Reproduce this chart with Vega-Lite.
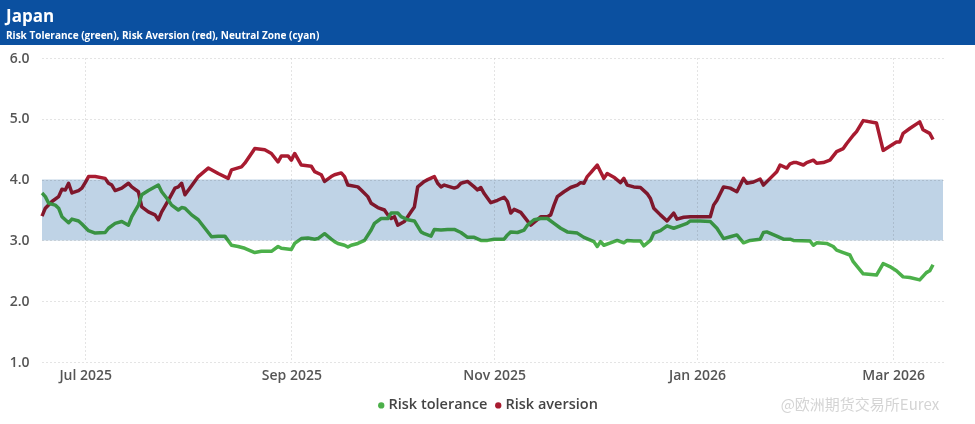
{
  "$schema": "https://vega.github.io/schema/vega-lite/v6.json",
  "padding": 0,
  "background": "white",
  "spacing": 6,
  "config": {
    "font": "Open Sans",
    "view": {"stroke": null}
  },
  "datasets": {
    "band": [{"start": "2025-06-18", "end": "2026-03-16", "lo": 3, "hi": 4}],
    "series": [
      {"date": "2025-06-18", "series": "Risk aversion", "value": 3.40},
      {"date": "2025-06-19", "series": "Risk aversion", "value": 3.53},
      {"date": "2025-06-21", "series": "Risk aversion", "value": 3.64},
      {"date": "2025-06-23", "series": "Risk aversion", "value": 3.72},
      {"date": "2025-06-24", "series": "Risk aversion", "value": 3.84},
      {"date": "2025-06-25", "series": "Risk aversion", "value": 3.83},
      {"date": "2025-06-26", "series": "Risk aversion", "value": 3.94},
      {"date": "2025-06-27", "series": "Risk aversion", "value": 3.78},
      {"date": "2025-06-29", "series": "Risk aversion", "value": 3.82},
      {"date": "2025-06-30", "series": "Risk aversion", "value": 3.86},
      {"date": "2025-07-01", "series": "Risk aversion", "value": 3.95},
      {"date": "2025-07-02", "series": "Risk aversion", "value": 4.05},
      {"date": "2025-07-04", "series": "Risk aversion", "value": 4.05},
      {"date": "2025-07-07", "series": "Risk aversion", "value": 4.02},
      {"date": "2025-07-08", "series": "Risk aversion", "value": 3.94},
      {"date": "2025-07-09", "series": "Risk aversion", "value": 3.91},
      {"date": "2025-07-10", "series": "Risk aversion", "value": 3.82},
      {"date": "2025-07-12", "series": "Risk aversion", "value": 3.86},
      {"date": "2025-07-14", "series": "Risk aversion", "value": 3.94},
      {"date": "2025-07-15", "series": "Risk aversion", "value": 3.88},
      {"date": "2025-07-17", "series": "Risk aversion", "value": 3.80},
      {"date": "2025-07-18", "series": "Risk aversion", "value": 3.55},
      {"date": "2025-07-20", "series": "Risk aversion", "value": 3.47},
      {"date": "2025-07-22", "series": "Risk aversion", "value": 3.42},
      {"date": "2025-07-23", "series": "Risk aversion", "value": 3.34},
      {"date": "2025-07-24", "series": "Risk aversion", "value": 3.47},
      {"date": "2025-07-26", "series": "Risk aversion", "value": 3.66},
      {"date": "2025-07-28", "series": "Risk aversion", "value": 3.86},
      {"date": "2025-07-29", "series": "Risk aversion", "value": 3.88},
      {"date": "2025-07-30", "series": "Risk aversion", "value": 3.94},
      {"date": "2025-07-31", "series": "Risk aversion", "value": 3.75},
      {"date": "2025-08-02", "series": "Risk aversion", "value": 3.90},
      {"date": "2025-08-04", "series": "Risk aversion", "value": 4.05},
      {"date": "2025-08-07", "series": "Risk aversion", "value": 4.19},
      {"date": "2025-08-10", "series": "Risk aversion", "value": 4.10},
      {"date": "2025-08-13", "series": "Risk aversion", "value": 4.02},
      {"date": "2025-08-14", "series": "Risk aversion", "value": 4.16},
      {"date": "2025-08-17", "series": "Risk aversion", "value": 4.21},
      {"date": "2025-08-18", "series": "Risk aversion", "value": 4.27},
      {"date": "2025-08-20", "series": "Risk aversion", "value": 4.43},
      {"date": "2025-08-21", "series": "Risk aversion", "value": 4.51},
      {"date": "2025-08-24", "series": "Risk aversion", "value": 4.49},
      {"date": "2025-08-26", "series": "Risk aversion", "value": 4.43},
      {"date": "2025-08-28", "series": "Risk aversion", "value": 4.29},
      {"date": "2025-08-29", "series": "Risk aversion", "value": 4.39},
      {"date": "2025-08-31", "series": "Risk aversion", "value": 4.39},
      {"date": "2025-09-01", "series": "Risk aversion", "value": 4.32},
      {"date": "2025-09-02", "series": "Risk aversion", "value": 4.43},
      {"date": "2025-09-04", "series": "Risk aversion", "value": 4.24},
      {"date": "2025-09-07", "series": "Risk aversion", "value": 4.22},
      {"date": "2025-09-08", "series": "Risk aversion", "value": 4.13},
      {"date": "2025-09-10", "series": "Risk aversion", "value": 4.08},
      {"date": "2025-09-11", "series": "Risk aversion", "value": 3.97},
      {"date": "2025-09-13", "series": "Risk aversion", "value": 4.05},
      {"date": "2025-09-14", "series": "Risk aversion", "value": 4.08},
      {"date": "2025-09-16", "series": "Risk aversion", "value": 4.11},
      {"date": "2025-09-17", "series": "Risk aversion", "value": 4.05},
      {"date": "2025-09-18", "series": "Risk aversion", "value": 3.91},
      {"date": "2025-09-21", "series": "Risk aversion", "value": 3.88},
      {"date": "2025-09-22", "series": "Risk aversion", "value": 3.83},
      {"date": "2025-09-24", "series": "Risk aversion", "value": 3.72},
      {"date": "2025-09-25", "series": "Risk aversion", "value": 3.61},
      {"date": "2025-09-27", "series": "Risk aversion", "value": 3.54},
      {"date": "2025-09-29", "series": "Risk aversion", "value": 3.50},
      {"date": "2025-09-30", "series": "Risk aversion", "value": 3.42},
      {"date": "2025-10-01", "series": "Risk aversion", "value": 3.36},
      {"date": "2025-10-02", "series": "Risk aversion", "value": 3.39},
      {"date": "2025-10-03", "series": "Risk aversion", "value": 3.25},
      {"date": "2025-10-05", "series": "Risk aversion", "value": 3.31},
      {"date": "2025-10-06", "series": "Risk aversion", "value": 3.39},
      {"date": "2025-10-07", "series": "Risk aversion", "value": 3.47},
      {"date": "2025-10-08", "series": "Risk aversion", "value": 3.55},
      {"date": "2025-10-09", "series": "Risk aversion", "value": 3.88},
      {"date": "2025-10-11", "series": "Risk aversion", "value": 3.97},
      {"date": "2025-10-12", "series": "Risk aversion", "value": 4.00},
      {"date": "2025-10-14", "series": "Risk aversion", "value": 4.05},
      {"date": "2025-10-15", "series": "Risk aversion", "value": 3.94},
      {"date": "2025-10-16", "series": "Risk aversion", "value": 3.88},
      {"date": "2025-10-17", "series": "Risk aversion", "value": 3.91},
      {"date": "2025-10-20", "series": "Risk aversion", "value": 3.86},
      {"date": "2025-10-21", "series": "Risk aversion", "value": 3.88},
      {"date": "2025-10-22", "series": "Risk aversion", "value": 3.94},
      {"date": "2025-10-24", "series": "Risk aversion", "value": 3.97},
      {"date": "2025-10-26", "series": "Risk aversion", "value": 3.88},
      {"date": "2025-10-27", "series": "Risk aversion", "value": 3.83},
      {"date": "2025-10-28", "series": "Risk aversion", "value": 3.87},
      {"date": "2025-10-29", "series": "Risk aversion", "value": 3.77},
      {"date": "2025-10-31", "series": "Risk aversion", "value": 3.62},
      {"date": "2025-11-02", "series": "Risk aversion", "value": 3.66},
      {"date": "2025-11-04", "series": "Risk aversion", "value": 3.71},
      {"date": "2025-11-05", "series": "Risk aversion", "value": 3.64},
      {"date": "2025-11-06", "series": "Risk aversion", "value": 3.45},
      {"date": "2025-11-07", "series": "Risk aversion", "value": 3.51},
      {"date": "2025-11-09", "series": "Risk aversion", "value": 3.46},
      {"date": "2025-11-10", "series": "Risk aversion", "value": 3.39},
      {"date": "2025-11-11", "series": "Risk aversion", "value": 3.32},
      {"date": "2025-11-12", "series": "Risk aversion", "value": 3.25},
      {"date": "2025-11-14", "series": "Risk aversion", "value": 3.34},
      {"date": "2025-11-15", "series": "Risk aversion", "value": 3.39},
      {"date": "2025-11-17", "series": "Risk aversion", "value": 3.39},
      {"date": "2025-11-18", "series": "Risk aversion", "value": 3.42},
      {"date": "2025-11-19", "series": "Risk aversion", "value": 3.58},
      {"date": "2025-11-20", "series": "Risk aversion", "value": 3.72},
      {"date": "2025-11-22", "series": "Risk aversion", "value": 3.80},
      {"date": "2025-11-24", "series": "Risk aversion", "value": 3.87},
      {"date": "2025-11-26", "series": "Risk aversion", "value": 3.91},
      {"date": "2025-11-27", "series": "Risk aversion", "value": 3.95},
      {"date": "2025-11-28", "series": "Risk aversion", "value": 3.94},
      {"date": "2025-11-29", "series": "Risk aversion", "value": 4.05},
      {"date": "2025-11-30", "series": "Risk aversion", "value": 4.11},
      {"date": "2025-12-02", "series": "Risk aversion", "value": 4.24},
      {"date": "2025-12-03", "series": "Risk aversion", "value": 4.13},
      {"date": "2025-12-04", "series": "Risk aversion", "value": 4.02},
      {"date": "2025-12-05", "series": "Risk aversion", "value": 4.10},
      {"date": "2025-12-07", "series": "Risk aversion", "value": 4.04},
      {"date": "2025-12-09", "series": "Risk aversion", "value": 3.95},
      {"date": "2025-12-10", "series": "Risk aversion", "value": 4.02},
      {"date": "2025-12-11", "series": "Risk aversion", "value": 3.91},
      {"date": "2025-12-13", "series": "Risk aversion", "value": 3.88},
      {"date": "2025-12-15", "series": "Risk aversion", "value": 3.87},
      {"date": "2025-12-17", "series": "Risk aversion", "value": 3.77},
      {"date": "2025-12-18", "series": "Risk aversion", "value": 3.69},
      {"date": "2025-12-19", "series": "Risk aversion", "value": 3.53},
      {"date": "2025-12-21", "series": "Risk aversion", "value": 3.42},
      {"date": "2025-12-23", "series": "Risk aversion", "value": 3.32},
      {"date": "2025-12-25", "series": "Risk aversion", "value": 3.45},
      {"date": "2025-12-26", "series": "Risk aversion", "value": 3.35},
      {"date": "2025-12-28", "series": "Risk aversion", "value": 3.38},
      {"date": "2025-12-30", "series": "Risk aversion", "value": 3.39},
      {"date": "2026-01-05", "series": "Risk aversion", "value": 3.39},
      {"date": "2026-01-06", "series": "Risk aversion", "value": 3.58},
      {"date": "2026-01-07", "series": "Risk aversion", "value": 3.66},
      {"date": "2026-01-09", "series": "Risk aversion", "value": 3.88},
      {"date": "2026-01-11", "series": "Risk aversion", "value": 3.86},
      {"date": "2026-01-13", "series": "Risk aversion", "value": 3.80},
      {"date": "2026-01-15", "series": "Risk aversion", "value": 4.02},
      {"date": "2026-01-16", "series": "Risk aversion", "value": 3.94},
      {"date": "2026-01-18", "series": "Risk aversion", "value": 3.96},
      {"date": "2026-01-20", "series": "Risk aversion", "value": 4.01},
      {"date": "2026-01-21", "series": "Risk aversion", "value": 3.91},
      {"date": "2026-01-23", "series": "Risk aversion", "value": 4.02},
      {"date": "2026-01-25", "series": "Risk aversion", "value": 4.13},
      {"date": "2026-01-26", "series": "Risk aversion", "value": 4.24},
      {"date": "2026-01-28", "series": "Risk aversion", "value": 4.19},
      {"date": "2026-01-29", "series": "Risk aversion", "value": 4.26},
      {"date": "2026-01-30", "series": "Risk aversion", "value": 4.28},
      {"date": "2026-01-31", "series": "Risk aversion", "value": 4.28},
      {"date": "2026-02-02", "series": "Risk aversion", "value": 4.24},
      {"date": "2026-02-03", "series": "Risk aversion", "value": 4.28},
      {"date": "2026-02-05", "series": "Risk aversion", "value": 4.32},
      {"date": "2026-02-06", "series": "Risk aversion", "value": 4.27},
      {"date": "2026-02-08", "series": "Risk aversion", "value": 4.28},
      {"date": "2026-02-10", "series": "Risk aversion", "value": 4.32},
      {"date": "2026-02-12", "series": "Risk aversion", "value": 4.46},
      {"date": "2026-02-14", "series": "Risk aversion", "value": 4.51},
      {"date": "2026-02-15", "series": "Risk aversion", "value": 4.59},
      {"date": "2026-02-17", "series": "Risk aversion", "value": 4.73},
      {"date": "2026-02-18", "series": "Risk aversion", "value": 4.79},
      {"date": "2026-02-20", "series": "Risk aversion", "value": 4.97},
      {"date": "2026-02-24", "series": "Risk aversion", "value": 4.93},
      {"date": "2026-02-26", "series": "Risk aversion", "value": 4.48},
      {"date": "2026-02-28", "series": "Risk aversion", "value": 4.55},
      {"date": "2026-03-02", "series": "Risk aversion", "value": 4.62},
      {"date": "2026-03-03", "series": "Risk aversion", "value": 4.62},
      {"date": "2026-03-04", "series": "Risk aversion", "value": 4.76},
      {"date": "2026-03-06", "series": "Risk aversion", "value": 4.84},
      {"date": "2026-03-09", "series": "Risk aversion", "value": 4.95},
      {"date": "2026-03-10", "series": "Risk aversion", "value": 4.82},
      {"date": "2026-03-12", "series": "Risk aversion", "value": 4.76},
      {"date": "2026-03-13", "series": "Risk aversion", "value": 4.66},
      {"date": "2025-06-18", "series": "Risk tolerance", "value": 3.78},
      {"date": "2025-06-19", "series": "Risk tolerance", "value": 3.72},
      {"date": "2025-06-20", "series": "Risk tolerance", "value": 3.61},
      {"date": "2025-06-22", "series": "Risk tolerance", "value": 3.58},
      {"date": "2025-06-23", "series": "Risk tolerance", "value": 3.53},
      {"date": "2025-06-24", "series": "Risk tolerance", "value": 3.39},
      {"date": "2025-06-26", "series": "Risk tolerance", "value": 3.29},
      {"date": "2025-06-27", "series": "Risk tolerance", "value": 3.35},
      {"date": "2025-06-29", "series": "Risk tolerance", "value": 3.32},
      {"date": "2025-06-30", "series": "Risk tolerance", "value": 3.27},
      {"date": "2025-07-02", "series": "Risk tolerance", "value": 3.16},
      {"date": "2025-07-04", "series": "Risk tolerance", "value": 3.12},
      {"date": "2025-07-07", "series": "Risk tolerance", "value": 3.13},
      {"date": "2025-07-08", "series": "Risk tolerance", "value": 3.20},
      {"date": "2025-07-10", "series": "Risk tolerance", "value": 3.28},
      {"date": "2025-07-12", "series": "Risk tolerance", "value": 3.31},
      {"date": "2025-07-14", "series": "Risk tolerance", "value": 3.25},
      {"date": "2025-07-15", "series": "Risk tolerance", "value": 3.39},
      {"date": "2025-07-17", "series": "Risk tolerance", "value": 3.58},
      {"date": "2025-07-18", "series": "Risk tolerance", "value": 3.75},
      {"date": "2025-07-20", "series": "Risk tolerance", "value": 3.82},
      {"date": "2025-07-23", "series": "Risk tolerance", "value": 3.91},
      {"date": "2025-07-24", "series": "Risk tolerance", "value": 3.80},
      {"date": "2025-07-26", "series": "Risk tolerance", "value": 3.66},
      {"date": "2025-07-27", "series": "Risk tolerance", "value": 3.58},
      {"date": "2025-07-29", "series": "Risk tolerance", "value": 3.50},
      {"date": "2025-07-30", "series": "Risk tolerance", "value": 3.54},
      {"date": "2025-07-31", "series": "Risk tolerance", "value": 3.53},
      {"date": "2025-08-02", "series": "Risk tolerance", "value": 3.42},
      {"date": "2025-08-04", "series": "Risk tolerance", "value": 3.34},
      {"date": "2025-08-06", "series": "Risk tolerance", "value": 3.20},
      {"date": "2025-08-08", "series": "Risk tolerance", "value": 3.06},
      {"date": "2025-08-10", "series": "Risk tolerance", "value": 3.07},
      {"date": "2025-08-12", "series": "Risk tolerance", "value": 3.07},
      {"date": "2025-08-14", "series": "Risk tolerance", "value": 2.92},
      {"date": "2025-08-16", "series": "Risk tolerance", "value": 2.90},
      {"date": "2025-08-18", "series": "Risk tolerance", "value": 2.87},
      {"date": "2025-08-21", "series": "Risk tolerance", "value": 2.80},
      {"date": "2025-08-23", "series": "Risk tolerance", "value": 2.82},
      {"date": "2025-08-26", "series": "Risk tolerance", "value": 2.82},
      {"date": "2025-08-28", "series": "Risk tolerance", "value": 2.90},
      {"date": "2025-08-29", "series": "Risk tolerance", "value": 2.87},
      {"date": "2025-09-01", "series": "Risk tolerance", "value": 2.85},
      {"date": "2025-09-02", "series": "Risk tolerance", "value": 2.95},
      {"date": "2025-09-04", "series": "Risk tolerance", "value": 3.03},
      {"date": "2025-09-06", "series": "Risk tolerance", "value": 3.04},
      {"date": "2025-09-08", "series": "Risk tolerance", "value": 3.02},
      {"date": "2025-09-09", "series": "Risk tolerance", "value": 3.03},
      {"date": "2025-09-11", "series": "Risk tolerance", "value": 3.11},
      {"date": "2025-09-13", "series": "Risk tolerance", "value": 3.02},
      {"date": "2025-09-14", "series": "Risk tolerance", "value": 2.98},
      {"date": "2025-09-15", "series": "Risk tolerance", "value": 2.95},
      {"date": "2025-09-17", "series": "Risk tolerance", "value": 2.92},
      {"date": "2025-09-18", "series": "Risk tolerance", "value": 2.89},
      {"date": "2025-09-19", "series": "Risk tolerance", "value": 2.92},
      {"date": "2025-09-21", "series": "Risk tolerance", "value": 2.95},
      {"date": "2025-09-23", "series": "Risk tolerance", "value": 3.00},
      {"date": "2025-09-25", "series": "Risk tolerance", "value": 3.17},
      {"date": "2025-09-26", "series": "Risk tolerance", "value": 3.28},
      {"date": "2025-09-28", "series": "Risk tolerance", "value": 3.36},
      {"date": "2025-09-30", "series": "Risk tolerance", "value": 3.36},
      {"date": "2025-10-01", "series": "Risk tolerance", "value": 3.45},
      {"date": "2025-10-03", "series": "Risk tolerance", "value": 3.45},
      {"date": "2025-10-04", "series": "Risk tolerance", "value": 3.39},
      {"date": "2025-10-06", "series": "Risk tolerance", "value": 3.34},
      {"date": "2025-10-08", "series": "Risk tolerance", "value": 3.32},
      {"date": "2025-10-10", "series": "Risk tolerance", "value": 3.14},
      {"date": "2025-10-11", "series": "Risk tolerance", "value": 3.11},
      {"date": "2025-10-13", "series": "Risk tolerance", "value": 3.07},
      {"date": "2025-10-14", "series": "Risk tolerance", "value": 3.18},
      {"date": "2025-10-16", "series": "Risk tolerance", "value": 3.17},
      {"date": "2025-10-18", "series": "Risk tolerance", "value": 3.18},
      {"date": "2025-10-20", "series": "Risk tolerance", "value": 3.18},
      {"date": "2025-10-22", "series": "Risk tolerance", "value": 3.13},
      {"date": "2025-10-24", "series": "Risk tolerance", "value": 3.05},
      {"date": "2025-10-26", "series": "Risk tolerance", "value": 3.05},
      {"date": "2025-10-28", "series": "Risk tolerance", "value": 3.00},
      {"date": "2025-10-30", "series": "Risk tolerance", "value": 3.00},
      {"date": "2025-11-01", "series": "Risk tolerance", "value": 3.02},
      {"date": "2025-11-04", "series": "Risk tolerance", "value": 3.02},
      {"date": "2025-11-05", "series": "Risk tolerance", "value": 3.09},
      {"date": "2025-11-06", "series": "Risk tolerance", "value": 3.14},
      {"date": "2025-11-08", "series": "Risk tolerance", "value": 3.13},
      {"date": "2025-11-10", "series": "Risk tolerance", "value": 3.17},
      {"date": "2025-11-11", "series": "Risk tolerance", "value": 3.25},
      {"date": "2025-11-13", "series": "Risk tolerance", "value": 3.34},
      {"date": "2025-11-15", "series": "Risk tolerance", "value": 3.36},
      {"date": "2025-11-17", "series": "Risk tolerance", "value": 3.36},
      {"date": "2025-11-19", "series": "Risk tolerance", "value": 3.28},
      {"date": "2025-11-21", "series": "Risk tolerance", "value": 3.20},
      {"date": "2025-11-23", "series": "Risk tolerance", "value": 3.14},
      {"date": "2025-11-26", "series": "Risk tolerance", "value": 3.12},
      {"date": "2025-11-28", "series": "Risk tolerance", "value": 3.05},
      {"date": "2025-12-01", "series": "Risk tolerance", "value": 2.98},
      {"date": "2025-12-02", "series": "Risk tolerance", "value": 2.90},
      {"date": "2025-12-03", "series": "Risk tolerance", "value": 2.98},
      {"date": "2025-12-04", "series": "Risk tolerance", "value": 2.92},
      {"date": "2025-12-06", "series": "Risk tolerance", "value": 2.96},
      {"date": "2025-12-08", "series": "Risk tolerance", "value": 3.00},
      {"date": "2025-12-10", "series": "Risk tolerance", "value": 2.96},
      {"date": "2025-12-11", "series": "Risk tolerance", "value": 3.00},
      {"date": "2025-12-13", "series": "Risk tolerance", "value": 2.99},
      {"date": "2025-12-15", "series": "Risk tolerance", "value": 2.99},
      {"date": "2025-12-16", "series": "Risk tolerance", "value": 2.91},
      {"date": "2025-12-18", "series": "Risk tolerance", "value": 3.00},
      {"date": "2025-12-19", "series": "Risk tolerance", "value": 3.12},
      {"date": "2025-12-21", "series": "Risk tolerance", "value": 3.16},
      {"date": "2025-12-23", "series": "Risk tolerance", "value": 3.24},
      {"date": "2025-12-25", "series": "Risk tolerance", "value": 3.20},
      {"date": "2025-12-27", "series": "Risk tolerance", "value": 3.24},
      {"date": "2025-12-29", "series": "Risk tolerance", "value": 3.28},
      {"date": "2025-12-30", "series": "Risk tolerance", "value": 3.32},
      {"date": "2026-01-02", "series": "Risk tolerance", "value": 3.32},
      {"date": "2026-01-05", "series": "Risk tolerance", "value": 3.31},
      {"date": "2026-01-07", "series": "Risk tolerance", "value": 3.20},
      {"date": "2026-01-09", "series": "Risk tolerance", "value": 3.03},
      {"date": "2026-01-11", "series": "Risk tolerance", "value": 3.06},
      {"date": "2026-01-13", "series": "Risk tolerance", "value": 3.09},
      {"date": "2026-01-15", "series": "Risk tolerance", "value": 2.96},
      {"date": "2026-01-17", "series": "Risk tolerance", "value": 3.00},
      {"date": "2026-01-20", "series": "Risk tolerance", "value": 3.02},
      {"date": "2026-01-21", "series": "Risk tolerance", "value": 3.13},
      {"date": "2026-01-22", "series": "Risk tolerance", "value": 3.14},
      {"date": "2026-01-25", "series": "Risk tolerance", "value": 3.07},
      {"date": "2026-01-27", "series": "Risk tolerance", "value": 3.02},
      {"date": "2026-01-29", "series": "Risk tolerance", "value": 3.02},
      {"date": "2026-01-30", "series": "Risk tolerance", "value": 3.00},
      {"date": "2026-02-04", "series": "Risk tolerance", "value": 2.99},
      {"date": "2026-02-05", "series": "Risk tolerance", "value": 2.92},
      {"date": "2026-02-06", "series": "Risk tolerance", "value": 2.96},
      {"date": "2026-02-09", "series": "Risk tolerance", "value": 2.95},
      {"date": "2026-02-11", "series": "Risk tolerance", "value": 2.90},
      {"date": "2026-02-12", "series": "Risk tolerance", "value": 2.84},
      {"date": "2026-02-14", "series": "Risk tolerance", "value": 2.80},
      {"date": "2026-02-16", "series": "Risk tolerance", "value": 2.76},
      {"date": "2026-02-17", "series": "Risk tolerance", "value": 2.65},
      {"date": "2026-02-20", "series": "Risk tolerance", "value": 2.45},
      {"date": "2026-02-24", "series": "Risk tolerance", "value": 2.43},
      {"date": "2026-02-26", "series": "Risk tolerance", "value": 2.62},
      {"date": "2026-02-28", "series": "Risk tolerance", "value": 2.57},
      {"date": "2026-03-02", "series": "Risk tolerance", "value": 2.50},
      {"date": "2026-03-04", "series": "Risk tolerance", "value": 2.40},
      {"date": "2026-03-06", "series": "Risk tolerance", "value": 2.39},
      {"date": "2026-03-09", "series": "Risk tolerance", "value": 2.35},
      {"date": "2026-03-11", "series": "Risk tolerance", "value": 2.47},
      {"date": "2026-03-12", "series": "Risk tolerance", "value": 2.50},
      {"date": "2026-03-13", "series": "Risk tolerance", "value": 2.60}
    ]
  },
  "vconcat": [
    {
      "width": 975,
      "height": 45,
      "view": {"fill": "#0b50a0", "stroke": null},
      "title": {
        "text": "Japan",
        "subtitle": "Risk Tolerance (green), Risk Aversion (red), Neutral Zone (cyan)",
        "anchor": "start",
        "frame": "group",
        "orient": "top",
        "offset": -42,
        "dx": 6,
        "color": "white",
        "font": "Open Sans",
        "fontSize": 17,
        "fontWeight": "bold",
        "subtitleColor": "white",
        "subtitleFont": "Open Sans",
        "subtitleFontSize": 10,
        "subtitleFontWeight": "bold",
        "subtitlePadding": 5
      },
      "data": {"values": [{"k": 1}]},
      "mark": {"type": "point", "opacity": 0},
      "encoding": {}
    },
    {
      "width": 945,
      "height": 304,
      "layer": [
        {
          "data": {"name": "series"},
          "mark": {"type": "line", "strokeWidth": 3.5, "strokeJoin": "round"},
          "encoding": {
            "x": {
              "field": "date",
              "type": "temporal",
              "scale": {"type": "utc", "range": [42, 943], "domain": [{"year": 2025, "month": 6, "date": 18, "utc": true}, {"year": 2026, "month": 3, "date": 16, "utc": true}]},
              "axis": {
                "title": null,
                "format": "%b %Y",
                "tickCount": {"interval": "month", "step": 2},
                "labelFontSize": 14,
                "labelFontWeight": 600,
                "labelColor": "#555555",
                "labelPadding": 6,
                "domain": false,
                "ticks": false,
                "grid": true,
                "gridDash": [1, 3],
                "gridColor": "#c8c8c8"
              }
            },
            "y": {
              "field": "value",
              "type": "quantitative",
              "scale": {"domain": [1, 6]},
              "axis": {
                "title": null,
                "values": [1, 2, 3, 4, 5, 6],
                "format": ".1f",
                "labelFontSize": 14,
                "labelFontWeight": 600,
                "labelColor": "#555555",
                "labelAlign": "right",
                "labelPadding": -29,
                "minExtent": 0,
                "domain": false,
                "ticks": false,
                "grid": true,
                "gridDash": [1, 3],
                "gridColor": "#c8c8c8"
              }
            },
            "color": {
              "field": "series",
              "type": "nominal",
              "scale": {"domain": ["Risk tolerance", "Risk aversion"], "range": ["#4cb04a", "#a81b30"]},
              "legend": {
                "title": null,
                "orient": "none",
                "legendX": 374,
                "legendY": 398,
                "direction": "horizontal",
                "symbolType": "circle",
                "symbolSize": 40,
                "symbolStrokeWidth": 0,
                "labelFontSize": 14.5,
                "labelFontWeight": 600,
                "labelColor": "#444444",
                "labelOffset": 0,
                "columnPadding": 3,
                "encode": {"symbols": {"update": {"fill": {"signal": "scale('color', datum.value)"}, "stroke": {"value": "transparent"}}}}
              }
            }
          }
        },
        {
          "data": {"name": "band"},
          "mark": {"type": "rect", "color": "#bfd3e6", "blend": "multiply"},
          "encoding": {
            "x": {"field": "start", "type": "temporal"},
            "x2": {"field": "end"},
            "y": {"field": "lo", "type": "quantitative"},
            "y2": {"field": "hi"}
          }
        },
        {
          "data": {"values": [{"label": "@欧洲期货交易所Eurex", "date": "2026-02-19", "value": 0.3}]},
          "mark": {"type": "text", "font": "Noto Sans CJK SC", "fontSize": 15, "color": "#d4d4d4", "clip": false},
          "encoding": {
            "x": {"field": "date", "type": "temporal"},
            "y": {"field": "value", "type": "quantitative"},
            "text": {"field": "label"}
          }
        }
      ]
    }
  ]
}
